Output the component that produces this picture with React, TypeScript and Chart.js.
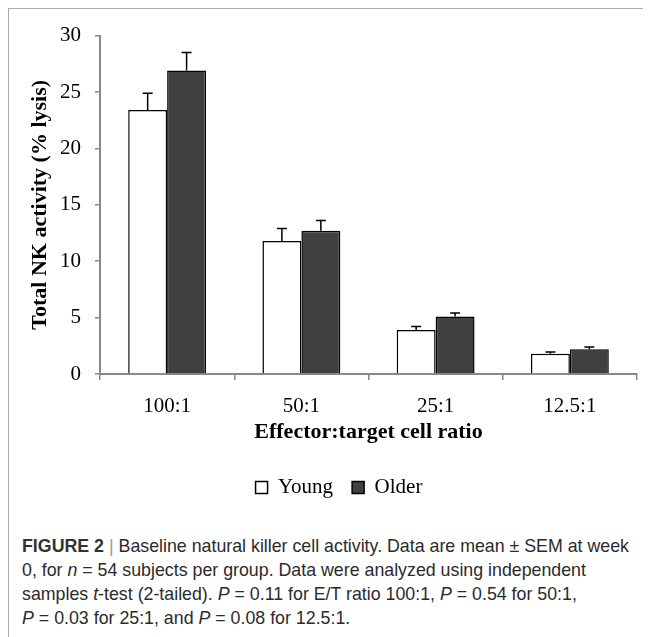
import React, { useEffect, useRef } from "react";
import { Chart, registerables } from "chart.js";

Chart.register(...registerables);

const categories = ["100:1", "50:1", "25:1", "12.5:1"];
const youngValues = [23.4, 11.8, 3.9, 1.8];
const youngErrors = [1.5, 1.1, 0.3, 0.15];
const olderValues = [26.9, 12.7, 5.1, 2.2];
const olderErrors = [1.6, 0.9, 0.3, 0.2];
const seriesNames = ["Young", "Older"];
const yTitle = "Total NK activity (% lysis)";
const xTitle = "Effector:target cell ratio";

const SERIF = "'Liberation Serif', 'Times New Roman', serif";

const errorBarPlugin = {
  id: "errorBars",
  afterDatasetsDraw(chart: any) {
    const { ctx } = chart;
    const yScale = chart.scales.y;
    const errs = [youngErrors, olderErrors];
    const vals = [youngValues, olderValues];
    chart.data.datasets.forEach((_: any, di: number) => {
      const meta = chart.getDatasetMeta(di);
      meta.data.forEach((el: any, i: number) => {
        const top = yScale.getPixelForValue(vals[di][i] + errs[di][i]);
        const base = el.y;
        ctx.save();
        ctx.strokeStyle = "#000";
        ctx.lineWidth = 1.5;
        ctx.beginPath();
        ctx.moveTo(el.x, base);
        ctx.lineTo(el.x, top);
        ctx.moveTo(el.x - 5, top);
        ctx.lineTo(el.x + 5, top);
        ctx.stroke();
        ctx.restore();
      });
    });
  },
};

export default function App() {
  const ref = useRef<HTMLCanvasElement>(null);
  useEffect(() => {
    if (!ref.current) return;
    const chart = new Chart(ref.current, {
      type: "bar",
      data: {
        labels: categories,
        datasets: [
          {
            label: seriesNames[0],
            data: youngValues,
            backgroundColor: "#ffffff",
            borderColor: "#000000",
            borderWidth: 1.5,
            categoryPercentage: 0.58,
            barPercentage: 1.0,
          },
          {
            label: seriesNames[1],
            data: olderValues,
            backgroundColor: "#404040",
            borderColor: "#000000",
            borderWidth: 1.5,
            categoryPercentage: 0.58,
            barPercentage: 1.0,
          },
        ],
      },
      options: {
        animation: false,
        responsive: false,
        maintainAspectRatio: false,
        layout: { padding: { top: 26, right: 32, bottom: 10, left: 32 } },
        plugins: {
          tooltip: { enabled: false },
          legend: {
            position: "bottom",
            labels: {
              boxWidth: 12,
              boxHeight: 12,
              padding: 19,
              color: "#000",
              font: { family: SERIF, size: 21 },
            },
          },
        },
        scales: {
          x: {
            afterFit: (s: any) => {
              s.height = 84;
            },
            grid: {
              display: true,
              drawOnChartArea: false,
              drawTicks: true,
              tickLength: 6,
              color: "#888",
              lineWidth: 1.5,
            },
            border: { display: true, color: "#888", width: 2 },
            ticks: {
              color: "#000",
              padding: 14,
              font: { family: SERIF, size: 21 },
            },
            title: {
              display: true,
              text: xTitle,
              color: "#000",
              padding: { top: 0, bottom: 12 },
              font: { family: SERIF, size: 22, weight: "bold" },
            },
          },
          y: {
            min: 0,
            max: 30,
            afterFit: (s: any) => {
              s.width = 59;
            },
            grid: {
              display: true,
              drawOnChartArea: false,
              drawTicks: true,
              tickLength: 5,
              color: "#888",
              lineWidth: 1.5,
            },
            border: { display: true, color: "#888", width: 2 },
            ticks: {
              stepSize: 5,
              color: "#000",
              padding: 14,
              font: { family: SERIF, size: 21 },
            },
            title: {
              display: true,
              text: yTitle,
              color: "#000",
              padding: { top: -14.2, bottom: 0 },
              font: { family: SERIF, size: 22, weight: "bold" },
            },
          },
        },
      },
      plugins: [errorBarPlugin],
    });
    return () => chart.destroy();
  }, []);

  return (
    <div
      style={{
        position: "relative",
        width: 642,
        height: 629,
        borderTop: "1px solid #aaa",
        borderLeft: "1px solid #aaa",
        overflow: "hidden",
      }}
    >
      <canvas
        ref={ref}
        width={660}
        height={509}
        style={{ position: "absolute", left: 0, top: 0, width: 660, height: 509 }}
      />
      <div
        style={{
          position: "absolute",
          left: 13,
          top: 525,
          width: 640,
          fontFamily: "'Liberation Sans', Arial, sans-serif",
          fontSize: 17.8,
          lineHeight: "24px",
          color: "#2b2b2b",
          whiteSpace: "nowrap",
        }}
      >
        <b style={{ color: "#333" }}>FIGURE 2</b>{" "}
        <span style={{ color: "#999" }}>|</span> Baseline natural killer cell activity. Data are mean ± SEM at week
        <br />
        0, for <i>n</i> = 54 subjects per group. Data were analyzed using independent
        <br />
        samples <i>t</i>-test (2-tailed). <i>P</i> = 0.11 for E/T ratio 100:1, <i>P</i> = 0.54 for 50:1,
        <br />
        <i>P</i> = 0.03 for 25:1, and <i>P</i> = 0.08 for 12.5:1.
      </div>
    </div>
  );
}
